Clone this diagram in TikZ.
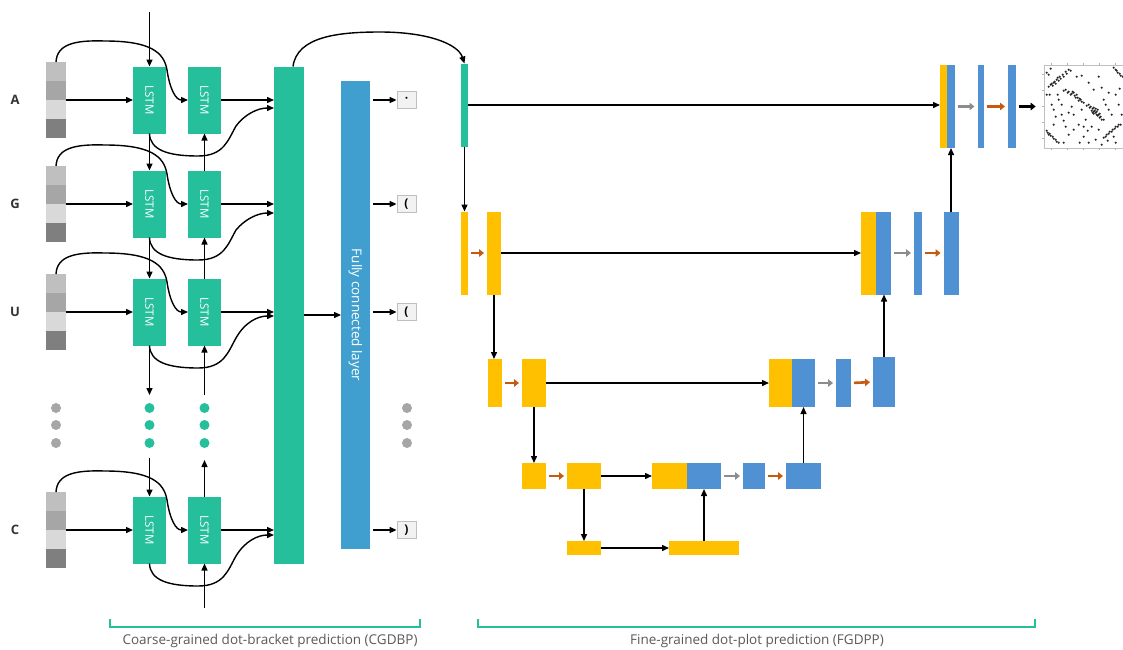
\documentclass[tikz,border=0pt]{standalone}
\usepackage{fontspec}
\setmainfont{Open Sans}
\usetikzlibrary{calc,arrows.meta}

\definecolor{lstmgreen}{HTML}{26BF9C}
\definecolor{fcblue}{HTML}{409FCF}
\definecolor{ybar}{HTML}{FFC000}
\definecolor{bbar}{HTML}{4F91D3}
\definecolor{oarrow}{HTML}{C55A11}
\definecolor{garrow}{HTML}{8C8C8C}
\definecolor{gA}{HTML}{BFBFBF}
\definecolor{gB}{HTML}{A6A6A6}
\definecolor{gC}{HTML}{D9D9D9}
\definecolor{gD}{HTML}{7F7F7F}

\tikzset{
  bar/.style n args={3}{fill=#1, minimum width=#2, minimum height=#3, inner sep=0pt, outer sep=0pt},
  lstm/.style={bar={lstmgreen}{33pt}{67pt}, text=white, font=\fontsize{11.5}{13}\selectfont},
  cell/.style={minimum width=20pt, minimum height=19pt, inner sep=0pt, outer sep=0pt},
  lbl/.style={text=black!80, font=\fontsize{13}{15}\selectfont\bfseries},
  outbox/.style={draw=black!25, line width=0.8pt, fill=black!5, minimum width=19pt, minimum height=17pt, inner sep=0pt, font=\fontsize{12}{14}\selectfont\bfseries},
  link/.style={->, line width=1.4pt},
  thk/.style={line width=2.6pt, -{Triangle[length=5pt,width=7.5pt]}, shorten <=3pt, shorten >=3pt},
  caption/.style={text=black!65, font=\fontsize{13.5}{15}\selectfont},
  brk/.style={draw=lstmgreen, line width=1.1pt}
}

\begin{document}
\begin{tikzpicture}[x=1pt,y=-1pt,>={Triangle[length=7pt,width=6pt]}]
\useasboundingbox (0,0) rectangle (1123,649);

\node[bar={lstmgreen}{30pt}{497pt}] (fuse) at (289,315) {};
\node[bar={fcblue}{29pt}{468pt}, text=white, font=\fontsize{13.5}{15}\selectfont] (fc) at (355.5,315) {\rotatebox{-90}{Fully connected layer}};
\draw[link] (fuse.east) -- (fc.west);

\foreach \n/\lab/\y/\o/\s in {a/A/100/8/\textperiodcentered, g/G/204/9/(, u/U/312/4/(, c/C/530/5/)}{
  \node[lbl] (lab\n) at (15,\y) {\lab};
  \node[cell,fill=gA] (in\n1) at (56,\y-28.5) {};
  \node[cell,fill=gB] (in\n2) at (56,\y-9.5) {};
  \node[cell,fill=gC] (in\n3) at (56,\y+9.5) {};
  \node[cell,fill=gD] (in\n4) at (56,\y+28.5) {};
  \node[lstm] (lstm1\n) at (149.5,\y) {\rotatebox{-90}{LSTM}};
  \node[lstm] (lstm2\n) at (204.5,\y) {\rotatebox{-90}{LSTM}};
  \node[outbox] (out\n) at (406.5,\y) {\s};
  \draw[link] (in\n2.south east) -- (lstm1\n.west);
  \draw[link] (lstm2\n.east) -- (lstm2\n.east -| fuse.west);
  \draw[link, shorten <=3pt] (fc.east |- out\n.west) -- (out\n.west);
  \draw[link] (in\n1.north) .. controls (57,\y-56) and (75,\y-60) .. (105,\y-59)
    .. controls (150,\y-59) and (164,\y-48) .. (167,\y-30)
    .. controls (170,\y-10) and (176,\y) .. (lstm2\n.west);
  \draw[link] (lstm1\n.south) .. controls (150,\y+50) and (168,\y+56) .. (198,\y+56)
    .. controls (224,\y+56) and (228,\y+40) .. (236,\y+26)
    .. controls (245,\y+\o+6) and (258,\y+\o) .. ($(fuse.west |- lstm2\n.east)+(0,\o)$);
}

\coordinate (top) at (149.5,12);
\coordinate (d1) at (149.5,395);
\coordinate (d2) at (149.5,458);
\coordinate (e1) at (204.5,395);
\coordinate (e2) at (204.5,460);
\coordinate (bot) at (204.5,608);
\draw[link] (top) -- (lstm1a.north);
\draw[link] (lstm1a.south) -- (lstm1g.north);
\draw[link] (lstm1g.south) -- (lstm1u.north);
\draw[link] (lstm1u.south) -- (d1);
\draw[link] (d2) -- (lstm1c.north);
\draw[link] (lstm2g.north) -- (lstm2a.south);
\draw[link] (lstm2u.north) -- (lstm2g.south);
\draw[link] (e1) -- (lstm2u.south);
\draw[link] (lstm2c.north) -- (e2);
\draw[link] (bot) -- (lstm2c.south);

\foreach \d in {408,425,443}{
  \fill[lstmgreen] (149.5,\d) circle (5);
  \fill[lstmgreen] (204.5,\d) circle (5);
  \fill[black!35] (56,\d) circle (5);
  \fill[black!35] (407,\d) circle (5);
}

\node[bar={lstmgreen}{7pt}{83pt}] (emb) at (464.5,105) {};
\draw[link] ($(fuse.north)+(4,0)$) .. controls (297,36) and (340,32) .. (380,32)
  .. controls (428,32) and (458,44) .. (emb.north);

\node[bar={ybar}{7pt}{83pt}] (c0y) at (943.5,106.5) {};
\node[bar={bbar}{8pt}{83pt}] (c0b) at (951,106.5) {};
\node[bar={bbar}{6pt}{83pt}] (b0a) at (980.5,106.5) {};
\node[bar={bbar}{8pt}{83pt}] (b0b) at (1012,106.5) {};
\node[draw=black!25, line width=0.6pt, minimum width=80pt, minimum height=83pt, inner sep=0pt] (dplot) at (1084,106.5) {};
\draw[link] (emb.east) -- (emb.east -| c0y.west);
\draw[thk, draw=garrow] (c0b.east) -- (b0a.west);
\draw[thk, draw=oarrow] (b0a.east) -- (b0b.west);
\draw[thk, draw=black, shorten >=8pt] (b0b.east) -- (dplot.west);

\foreach \t in {8,24,40,56,72}{
  \draw[black!30, line width=0.5pt] ($(dplot.north west)+(\t,0)$) -- ++(0,-2);
  \draw[black!30, line width=0.5pt] ($(dplot.south west)+(\t,0)$) -- ++(0,2);
  \draw[black!30, line width=0.5pt] ($(dplot.north west)+(0,\t+2)$) -- ++(-2,0);
}
\foreach \px/\py in {5/22,7/20,8/19,9/21,10/18,11/17,12/19,13/15,14/13,15/16,16/12,17/14,19/10,20/12,22/7,23/9,25/5,27/6,
  3/8,5/10,7/4,
  20/26,22/25,24/28,25/27,27/30,28/29,29/27,30/28,31/31,32/33,33/30,34/33,35/36,36/34,37/35,38/37,40/38,
  43/41,45/40,46/43,47/42,48/46,49/44,50/43,50/47,51/46,52/48,53/47,53/50,54/45,54/51,55/50,56/53,57/52,58/55,60/55,
  50/49,52/44,49/48,56/49,
  60/73,62/72,63/70,65/69,66/67,68/67,69/65,71/64,72/62,74/62,75/60,77/60,
  70/3,72/5,73/6,74/8,76/9,77/11,79/12,
  3/66,4/68,6/69,7/71,9/72,10/74,12/75,13/77,15/78,5/70,
  3/30,6/30,10/45,12/52,18/40,20/56,25/48,28/42,33/12,38/11,45/18,50/25,58/23,65/28,72/30,
  75/40,60/35,65/45,68/50,35/60,30/65,25/70,40/72,45/78,52/75,58/80,20/78,10/60,55/65,
  48/62,72/78,78/50,42/55,30/50,8/40,15/35,40/62,36/78,62/40,64/76,70/72,76/24,55/12,
  18/50,14/30,44/66,38/45,22/62}{
  \fill[black!85] ($(dplot.north west)+(\px,\py)$) circle (1.2);
}

\node[bar={ybar}{7pt}{83pt}] (y1a) at (464.5,253) {};
\node[bar={ybar}{14pt}{83pt}] (y1b) at (494,253) {};
\node[bar={ybar}{15pt}{83pt}] (c1y) at (868.5,253) {};
\node[bar={bbar}{15pt}{83pt}] (c1b) at (883.5,253) {};
\node[bar={bbar}{8pt}{83pt}] (b1a) at (918,253) {};
\node[bar={bbar}{15pt}{83pt}] (b1b) at (951,253) {};
\draw[link] (emb.south) -- (y1a.north);
\draw[thk, draw=oarrow] (y1a.east) -- (y1b.west);
\draw[link] (y1b.east) -- (c1y.west);
\draw[thk, draw=garrow] (c1b.east) -- (b1a.west);
\draw[thk, draw=oarrow] (b1a.east) -- (b1b.west);
\draw[link] (b1b.north) -- (c0b.south);

\node[bar={ybar}{14pt}{48pt}] (y2a) at (495,383) {};
\node[bar={ybar}{24pt}{48pt}] (y2b) at (534,383) {};
\node[bar={ybar}{23pt}{48pt}] (c2y) at (780.5,383) {};
\node[bar={bbar}{23pt}{48pt}] (c2b) at (803.5,383) {};
\node[bar={bbar}{15pt}{48pt}] (b2a) at (843.5,383) {};
\node[bar={bbar}{22pt}{50pt}] (b2b) at (884,382) {};
\draw[link] (y1b.south) -- (y1b.south |- y2a.north);
\draw[thk, draw=oarrow] (y2a.east) -- (y2b.west);
\draw[link] (y2b.east) -- (c2y.west);
\draw[thk, draw=garrow] (c2b.east) -- (b2a.west);
\draw[thk, draw=oarrow] (b2a.east) -- (b2b.west);
\draw[link] (b2b.north) -- (b2b.north |- c1b.south);

\node[bar={ybar}{24pt}{26pt}] (y3a) at (534,476) {};
\node[bar={ybar}{34pt}{26pt}] (y3b) at (584,476) {};
\node[bar={ybar}{35pt}{26pt}] (c3y) at (669.5,476) {};
\node[bar={bbar}{34pt}{26pt}] (c3b) at (704,476) {};
\node[bar={bbar}{22pt}{26pt}] (b3a) at (754,476) {};
\node[bar={bbar}{35pt}{26pt}] (b3b) at (803.5,476) {};
\draw[link] (y2b.south) -- (y3a.north);
\draw[thk, draw=oarrow] (y3a.east) -- (y3b.west);
\draw[link] (y3b.east) -- (c3y.west);
\draw[thk, draw=garrow] (c3b.east) -- (b3a.west);
\draw[thk, draw=oarrow] (b3a.east) -- (b3b.west);
\draw[link] (b3b.north) -- (c2b.south);

\node[bar={ybar}{34pt}{14pt}] (y4a) at (584,548) {};
\node[bar={ybar}{70pt}{14pt}] (y4b) at (704,548) {};
\draw[link] (y3b.south) -- (y4a.north);
\draw[link] (y4a.east) -- (y4b.west);
\draw[link] (y4b.north) -- (y4b.north |- c3b.south);

\draw[brk] (110,619) -- (110,627) -- (420,627) -- (420,619);
\draw[brk] (478,619) -- (478,627) -- (1035,627) -- (1035,619);
\node[caption] (cap1) at (270,641) {Coarse-grained dot-bracket prediction (CGDBP)};
\node[caption] (cap2) at (757,641) {Fine-grained dot-plot prediction (FGDPP)};

\end{tikzpicture}
\end{document}
